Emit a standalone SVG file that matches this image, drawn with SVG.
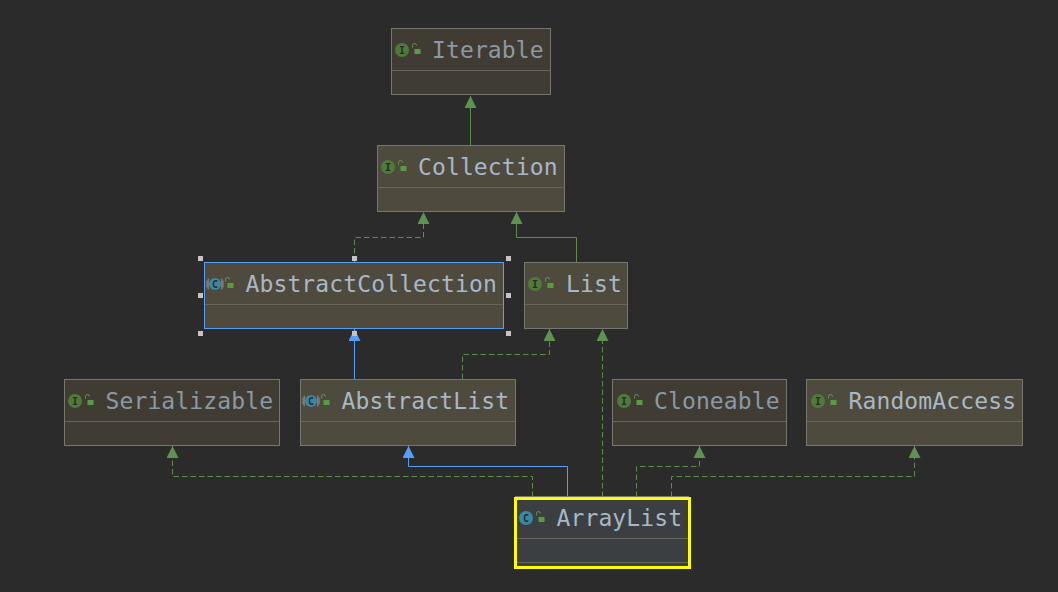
<svg xmlns="http://www.w3.org/2000/svg" width="1058" height="592" viewBox="0 0 1058 592">
<defs>
<marker id="ag" markerUnits="userSpaceOnUse" markerWidth="12" markerHeight="12" refX="12" refY="6" orient="auto"><path d="M0,0L12,6L0,12Z" fill="#5f9150"/></marker>
<marker id="ab" markerUnits="userSpaceOnUse" markerWidth="12" markerHeight="12" refX="12" refY="6" orient="auto"><path d="M0,0L12,6L0,12Z" fill="#589df6"/></marker>
<g id="lock"><path d="M-4.500,-3.500v-2a2,2 0 0 1 4,0" fill="none" stroke="#5b9a45" stroke-width="1"/><rect x="-2.500" y="-2" width="6" height="5" fill="#5b9a45"/></g>
<g id="abs"><path d="M-8,-3.500v7M8,-3.500v7M-6.800,-5.500v11M6.800,-5.500v11" stroke="#8f8f8a" stroke-width="1" fill="none"/></g>
</defs>
<style>
.n{fill:#4f4a3e;stroke:#77776f;stroke-width:1}
.d{fill:#403c33;stroke:#77776f;stroke-width:1}
.s{stroke:#66645c;stroke-width:1}
.t{font-family:"DejaVu Sans Mono",monospace;font-size:23px;letter-spacing:.12px;fill:#a9b7c6}
.td{fill:#8c98a4}
.ii{fill:#4f7a3a}
.ic{fill:#3a88a6}
.il{font-family:"DejaVu Sans Mono",monospace;font-size:10px;fill:#2b2b2b;text-anchor:middle;font-weight:bold}
.c{fill:none;stroke-width:1}
.g{stroke:#5c8d4c}
.b{stroke:#589df6}
.da{stroke-dasharray:5.500 3}
.h{fill:#c4c4c4}
</style>
<rect width="1058" height="592" fill="#2b2b2b"/>
<g id="connectors">
<path class="c g" marker-end="url(#ag)" d="M470.500,145V96"/>
<path class="c g da" marker-end="url(#ag)" d="M354.500,262V237.500H423.500V212"/>
<path class="c g" marker-end="url(#ag)" d="M576.500,262V237.500H516.500V212"/>
<path class="c b" marker-end="url(#ab)" d="M354.500,379V329"/>
<path class="c g da" marker-end="url(#ag)" d="M462.500,379V354.500H549.500V329"/>
<path class="c g da" marker-end="url(#ag)" d="M602.500,497V329"/>
<path class="c g da" marker-end="url(#ag)" d="M532.500,497V476.500H172.500V446"/>
<path class="c b" marker-end="url(#ab)" d="M567.500,497V466.500H408.500V446"/>
<path class="c g da" marker-end="url(#ag)" d="M636.500,497V466.500H699.500V446"/>
<path class="c g da" marker-end="url(#ag)" d="M671.500,497V476.500H914.500V446"/>
</g>
<g id="iterable">
<rect class="d" x="391.500" y="28.500" width="159" height="66"/><path class="s" d="M392,70.500H550"/>
<circle class="ii" cx="402" cy="50" r="7"/><text class="il" x="402" y="53.500">I</text><use href="#lock" x="417" y="51"/>
<text class="t td" x="432" y="58">Iterable</text>
</g>
<g id="collection">
<rect class="n" x="377.500" y="145.500" width="187" height="66"/><path class="s" d="M378,187.500H564"/>
<circle class="ii" cx="388" cy="167" r="7"/><text class="il" x="388" y="170.500">I</text><use href="#lock" x="403" y="168"/>
<text class="t" x="418" y="175">Collection</text>
</g>
<g id="abstractcollection">
<rect class="n" x="204.500" y="262.500" width="299" height="66" style="stroke:#589df6"/><path class="s" d="M205,304.500H503"/>
<use href="#abs" x="215" y="284"/><circle class="ic" cx="215" cy="284" r="6"/><text class="il" x="215" y="287.500">C</text><use href="#lock" x="230" y="285"/>
<text class="t" x="245.500" y="292">AbstractCollection</text>
<rect class="h" x="198" y="256" width="5" height="5"/><rect class="h" x="352" y="256" width="5" height="5"/><rect class="h" x="506" y="256" width="5" height="5"/>
<rect class="h" x="198" y="293" width="5" height="5"/><rect class="h" x="506" y="293" width="5" height="5"/>
<rect class="h" x="198" y="331" width="5" height="5"/><rect class="h" x="352" y="331" width="5" height="5"/><rect class="h" x="506" y="331" width="5" height="5"/>
</g>
<g id="list">
<rect class="n" x="524.500" y="262.500" width="103" height="66"/><path class="s" d="M525,304.500H627"/>
<circle class="ii" cx="535" cy="284" r="7"/><text class="il" x="535" y="287.500">I</text><use href="#lock" x="550" y="285"/>
<text class="t" x="566" y="292">List</text>
</g>
<g id="serializable">
<rect class="d" x="64.500" y="379.500" width="215" height="66"/><path class="s" d="M65,421.500H279"/>
<circle class="ii" cx="75" cy="401" r="7"/><text class="il" x="75" y="404.500">I</text><use href="#lock" x="90" y="402"/>
<text class="t td" x="105.500" y="409">Serializable</text>
</g>
<g id="abstractlist">
<rect class="n" x="300.500" y="379.500" width="215" height="66"/><path class="s" d="M301,421.500H515"/>
<use href="#abs" x="311" y="401"/><circle class="ic" cx="311" cy="401" r="6"/><text class="il" x="311" y="404.500">C</text><use href="#lock" x="326" y="402"/>
<text class="t" x="341.500" y="409">AbstractList</text>
</g>
<g id="cloneable">
<rect class="d" x="612.500" y="379.500" width="174" height="66"/><path class="s" d="M613,421.500H786"/>
<circle class="ii" cx="624" cy="401" r="7"/><text class="il" x="624" y="404.500">I</text><use href="#lock" x="639" y="402"/>
<text class="t td" x="654" y="409">Cloneable</text>
</g>
<g id="randomaccess">
<rect class="n" x="806.500" y="379.500" width="216" height="66"/><path class="s" d="M807,421.500H1022"/>
<circle class="ii" cx="818" cy="401" r="7"/><text class="il" x="818" y="404.500">I</text><use href="#lock" x="833" y="402"/>
<text class="t" x="848.500" y="409">RandomAccess</text>
</g>
<g id="arraylist">
<path d="M515,496.500H689" stroke="#77776f" stroke-width="1"/>
<rect x="515.500" y="498.500" width="174" height="69" fill="#3c3f41" stroke="#ffff00" stroke-width="3"/><path class="s" d="M517,538.500H688M517,562.500H688"/>
<circle class="ic" cx="526" cy="518" r="7"/><text class="il" x="526" y="521.500">C</text><use href="#lock" x="541" y="519"/>
<text class="t" x="556.500" y="526">ArrayList</text>
</g>
</svg>
